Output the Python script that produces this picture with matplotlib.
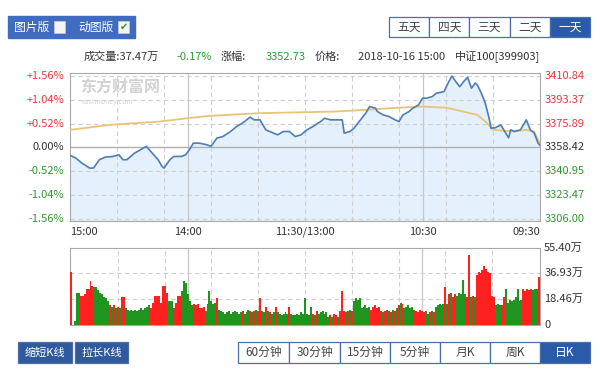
import matplotlib
matplotlib.use("Agg")
import matplotlib.pyplot as plt
from matplotlib.patches import Rectangle

plt.rcParams['font.family'] = ['Noto Sans CJK SC', 'DejaVu Sans']

# price line, minutes after 09:30 (0..240)
price_t = [0, 1, 3, 5, 7, 10, 13, 15, 16, 18, 20, 23, 25, 26, 28, 30, 32, 33, 35, 37,
           39, 41, 43, 45, 47, 49, 53, 55, 58, 60, 62, 65, 67, 70, 72, 74, 77, 80, 83, 84,
           87, 89, 91, 95, 97, 100, 101, 104, 107, 110, 112, 116, 119, 122, 125, 128, 131, 134, 136, 140,
           143, 146, 148, 152, 155, 158, 162, 165, 168, 170, 174, 177, 179, 181, 183, 187, 189, 192, 193, 195,
           198, 201, 204, 207, 211, 213, 215, 218, 222, 225, 228, 230, 234, 237, 240]
price = [3360.0, 3361.6, 3369.1, 3371.3, 3378.6, 3371.3, 3370.1, 3371.3, 3365.5, 3370.1,
         3374.9, 3372.8, 3372.5, 3379.8, 3391.0, 3398.2, 3404.1, 3405.5, 3401.7, 3409.7,
         3406.5, 3402.8, 3406.5, 3410.6, 3405.3, 3399.2, 3398.0, 3395.6, 3394.4, 3394.4,
         3389.5, 3387.1, 3384.6, 3382.2, 3377.4, 3378.6, 3381.0, 3382.2, 3384.6, 3387.1,
         3388.3, 3383.5, 3379.8, 3372.5, 3370.1, 3368.9, 3378.6, 3378.6, 3378.6, 3379.8,
         3377.4, 3373.7, 3371.3, 3367.7, 3366.4, 3370.1, 3370.1, 3367.7, 3368.9, 3371.3,
         3378.6, 3378.6, 3380.6, 3376.2, 3373.7, 3370.1, 3366.4, 3365.3, 3359.2, 3360.4,
         3361.6, 3361.6, 3356.8, 3353.1, 3351.9, 3351.9, 3349.5, 3343.4, 3344.6, 3349.5,
         3354.3, 3359.2, 3356.8, 3354.3, 3349.5, 3349.5, 3353.1, 3351.9, 3351.4, 3349.5,
         3343.4, 3343.4, 3347.1, 3350.7, 3352.7]

avg_t = [0, 3, 7, 14, 24, 27, 32, 39, 48, 60, 72, 89, 106, 120, 143, 169, 180, 194, 220, 240]
avg_price = [3361.0, 3370.1, 3371.3, 3370.1, 3371.3, 3376.2, 3382.2, 3384.6, 3387.5, 3388.3,
             3387.5, 3385.9, 3384.6, 3384.2, 3383.5, 3381.5, 3379.8, 3377.4, 3374.9, 3371.3]

# volume per minute (万)
volume = [34.5, 26, 26, 25, 26, 25, 26, 24, 26, 18,
          17, 26, 20, 18, 17, 18, 16, 26, 20, 14,
          14, 15, 14, 20, 21, 37, 38, 40, 42, 39,
          37, 38, 36, 20, 21, 20, 50, 20, 22, 32,
          22, 23, 21, 22, 20, 23, 22, 15, 27, 15,
          14, 15, 14, 13, 9, 10, 9, 8, 10, 9,
          10, 11, 9, 10, 11, 13, 12, 14, 13, 12,
          15, 16, 14, 12, 10, 11, 9, 10, 11, 10,
          9, 10, 13, 12, 14, 13, 11, 13, 12, 14,
          13, 12, 19, 18, 19, 17, 10, 11, 10, 9,
          10, 24.5, 10, 6, 7, 8, 6, 7, 6, 9,
          8, 10, 9, 8, 10, 7, 8, 13, 7, 8,
          19, 8, 9, 7, 8, 7, 7, 8, 13, 8,
          9, 8, 7, 8, 9, 13, 9, 8, 9, 10,
          13, 9, 10, 19, 10, 11, 10, 9, 10, 11,
          9, 8, 10, 9, 8, 9, 10, 9, 8, 10,
          9, 8, 9, 10, 11, 19, 16, 15, 17, 24,
          15, 10, 13, 12, 12, 15, 14, 15, 14, 17,
          22, 30, 31.7, 24, 21, 21, 16, 12, 17, 17,
          17, 23, 28, 28, 16, 21, 21, 21, 16, 12,
          14, 13, 12, 11, 12, 11, 10, 11, 10, 11,
          10, 11, 12, 20, 20, 12, 13, 12, 14, 13,
          14, 17, 19, 20, 22, 23, 25, 27, 27, 28,
          31.7, 26, 26, 22, 21, 21, 23, 23, 3, 0, 37.7]
vol_dir = ("rgggrrrrrg" + "ggggggggrr" + "gggrrrrrrr" + "rrrgrgrrgg" + "gggrrgrgrg"
           + "ggggrgrggr" + "rrrrrggggg" + "rgrgrgrgrr" + "grrrrrrggg" + "ggggggrgrg"
           + "rrrgrrgrgg" + "ggggrgrggg" + "ggggggggrg" + "gggggrggrg" + "rggrrgrgrg"
           + "ggrggggggg" + "gggggrgggg" + "ggrrrrrrgg" + "ggggrrrrgg" + "grrrrrrrrr"
           + "gggggggggg" + "gggrrgrgrg" + "rggggggggr" + "rrrrrrggggr")

price_ticks = [3410.84, 3393.37, 3375.89, 3358.42, 3340.95, 3323.47, 3306.00]
pct_labels = ['+1.56%', '+1.04%', '+0.52%', '0.00%', '-0.52%', '-1.04%', '-1.56%']
vol_ticks = [55.40, 36.93, 18.46, 0]
vol_labels = ['55.40万', '36.93万', '18.46万', '0']
time_pos = [240, 180, 120, 60, 0]
time_labels = ['15:00', '14:00', '11:30/13:00', '10:30', '09:30']
day_buttons = ['五天', '四天', '三天', '二天', '一天']
k_buttons = ['60分钟', '30分钟', '15分钟', '5分钟', '月K', '周K', '日K']

W, H = 600, 382
RED = '#e8393c'
GREEN = '#2f9a2f'
BLUE = '#2a5ba8'


def fbox(x0, y0, x1, y1):
    return [x0 / W, 1 - y1 / H, (x1 - x0) / W, (y1 - y0) / H]


def ftxt(x, y, s, **kw):
    fig.text(x / W, 1 - y / H, s, **kw)


def button(x0, y0, x1, y1, label, selected=False, fc=None, tc=None, fs=8.5):
    face = fc if fc else (BLUE if selected else 'white')
    fig.patches.append(Rectangle((x0 / W, 1 - y1 / H), (x1 - x0) / W, (y1 - y0) / H,
                                 transform=fig.transFigure, facecolor=face,
                                 edgecolor='#4d6fa8', linewidth=0.9))
    color = tc if tc else ('white' if selected else '#444444')
    ftxt((x0 + x1) / 2, (y0 + y1) / 2, label, ha='center', va='center', color=color, fontsize=fs)


fig = plt.figure(figsize=(W / 100, H / 100), dpi=100)

# ---- price panel
ax = fig.add_axes(fbox(70, 73, 540, 221))
ax.set_xlim(240, 0)
ax.set_ylim(3304.76, 3412.81)
ax.fill_between(price_t, price, 3304.76, color='#e4f1fc', zorder=1)
ax.plot(avg_t, avg_price, color='#eac37a', lw=1.3, zorder=3)
ax.plot(price_t, price, color='#4f7db8', lw=1.2, zorder=4)
for i in range(1, 10):
    ax.axvline(i * 24, color='#cfcfcf', lw=0.8, ls=(0, (4, 3)), zorder=2)
for v in (60, 180):
    ax.axvline(v, color='#c8c8c8', lw=0.9, zorder=2)
for p in price_ticks:
    if p == 3358.42:
        ax.axhline(p, color='#b0b0b0', lw=1.0, zorder=2)
    else:
        ax.axhline(p, color='#cfcfcf', lw=0.8, ls=(0, (4, 3)), zorder=2)
ax.set_xticks([])
ax.set_yticks([])
for s in ax.spines.values():
    s.set_color('#a8a8a8')

for p, lab in zip(price_ticks, pct_labels):
    c = RED if p > 3358.42 else (GREEN if p < 3358.42 else '#333333')
    ax.annotate(lab, xy=(0, p), xycoords=('axes fraction', 'data'), xytext=(-4, 0),
                textcoords='offset points', ha='right', va='center', color=c, fontsize=8)
    ax.annotate('%.2f' % p, xy=(1, p), xycoords=('axes fraction', 'data'), xytext=(3, 0),
                textcoords='offset points', ha='left', va='center', color=c, fontsize=8)
for tp, lab in zip(time_pos, time_labels):
    ha = 'left' if tp == 240 else ('right' if tp == 0 else 'center')
    ax.annotate(lab, xy=(tp, 0), xycoords=('data', 'axes fraction'), xytext=(0, -4),
                textcoords='offset points', ha=ha, va='top', color='#333333', fontsize=8)

# watermark
ftxt(80, 87, '东方财富网', color='#d2d2d2', fontsize=11.5, fontweight='bold', va='center')
ftxt(82, 102, 'eastmoney.com', color='#d2d2d2', fontsize=5, va='center')

# ---- volume panel
axv = fig.add_axes(fbox(70, 247.5, 540, 325))
axv.set_xlim(240.5, -0.5)
axv.set_ylim(0, 55.40)
cols = ['#ff2020' if d == 'r' else '#1f951f' for d in vol_dir]
axv.bar(range(len(volume)), volume, width=1.0, color=cols, linewidth=0, zorder=3)
for i in range(1, 10):
    axv.axvline(i * 24, color='#cfcfcf', lw=0.8, ls=(0, (4, 3)), zorder=1)
for v in (60, 180):
    axv.axvline(v, color='#c8c8c8', lw=0.9, zorder=1)
for v in vol_ticks[1:3]:
    axv.axhline(v, color='#cfcfcf', lw=0.8, ls=(0, (4, 3)), zorder=1)
axv.set_xticks([])
axv.set_yticks([])
for s in axv.spines.values():
    s.set_color('#a8a8a8')
for v, lab in zip(vol_ticks, vol_labels):
    axv.annotate(lab, xy=(1, v), xycoords=('axes fraction', 'data'), xytext=(3, 0),
                 textcoords='offset points', ha='left', va='center', color='#333333', fontsize=8)

# ---- header line
ftxt(540, 57, '中证100[399903]', ha='right', va='center', fontsize=8, color='#333333')
ftxt(445, 57, '2018-10-16 15:00', ha='right', va='center', fontsize=8, color='#333333')
ftxt(306, 57, '3352.73', ha='right', va='center', fontsize=8, color=GREEN)
ftxt(340, 57, '价格:', ha='right', va='center', fontsize=8, color='#333333')
ftxt(212, 57, '-0.17%', ha='right', va='center', fontsize=8, color=GREEN)
ftxt(246, 57, '涨幅:', ha='right', va='center', fontsize=8, color='#333333')
ftxt(84, 57, '成交量:37.47万', ha='left', va='center', fontsize=8, color='#333333')

# ---- top buttons
for i, lab in enumerate(day_buttons):
    x0 = 389 + i * 40.2
    button(x0, 17, x0 + 40.2, 37, lab, selected=(lab == '一天'))

fig.patches.append(Rectangle((8 / W, 1 - 38 / H), 127 / W, 22 / H, transform=fig.transFigure,
                             facecolor='#3f6cbf', edgecolor='#3f6cbf'))
fig.patches.append(Rectangle((54 / W, 1 - 33 / H), 11 / W, 12 / H, transform=fig.transFigure,
                             facecolor='#f4f4f4', edgecolor='#cccccc', lw=0.5))
fig.patches.append(Rectangle((118 / W, 1 - 33 / H), 11 / W, 12 / H, transform=fig.transFigure,
                             facecolor='#f4f4f4', edgecolor='#cccccc', lw=0.5))
ftxt(123.5, 27, '✔', ha='center', va='center', color='#2c9a2c', fontsize=7,
     family=['DejaVu Sans'])
ftxt(32, 27, '图片版', ha='center', va='center', color='white', fontsize=8.5)
ftxt(96, 27, '动图版', ha='center', va='center', color='white', fontsize=8.5)

# ---- bottom buttons
kx = [238, 289, 340, 390, 440, 490, 540, 590]
for i, lab in enumerate(k_buttons):
    button(kx[i], 342, kx[i + 1], 363, lab, selected=(lab == '日K'))
button(18, 342, 72, 363, '缩短K线', fc='#2f5a9e', tc='white', fs=8)
button(75, 342, 128, 363, '拉长K线', fc='#2f5a9e', tc='white', fs=8)

fig.savefig('out.png', dpi=100)
